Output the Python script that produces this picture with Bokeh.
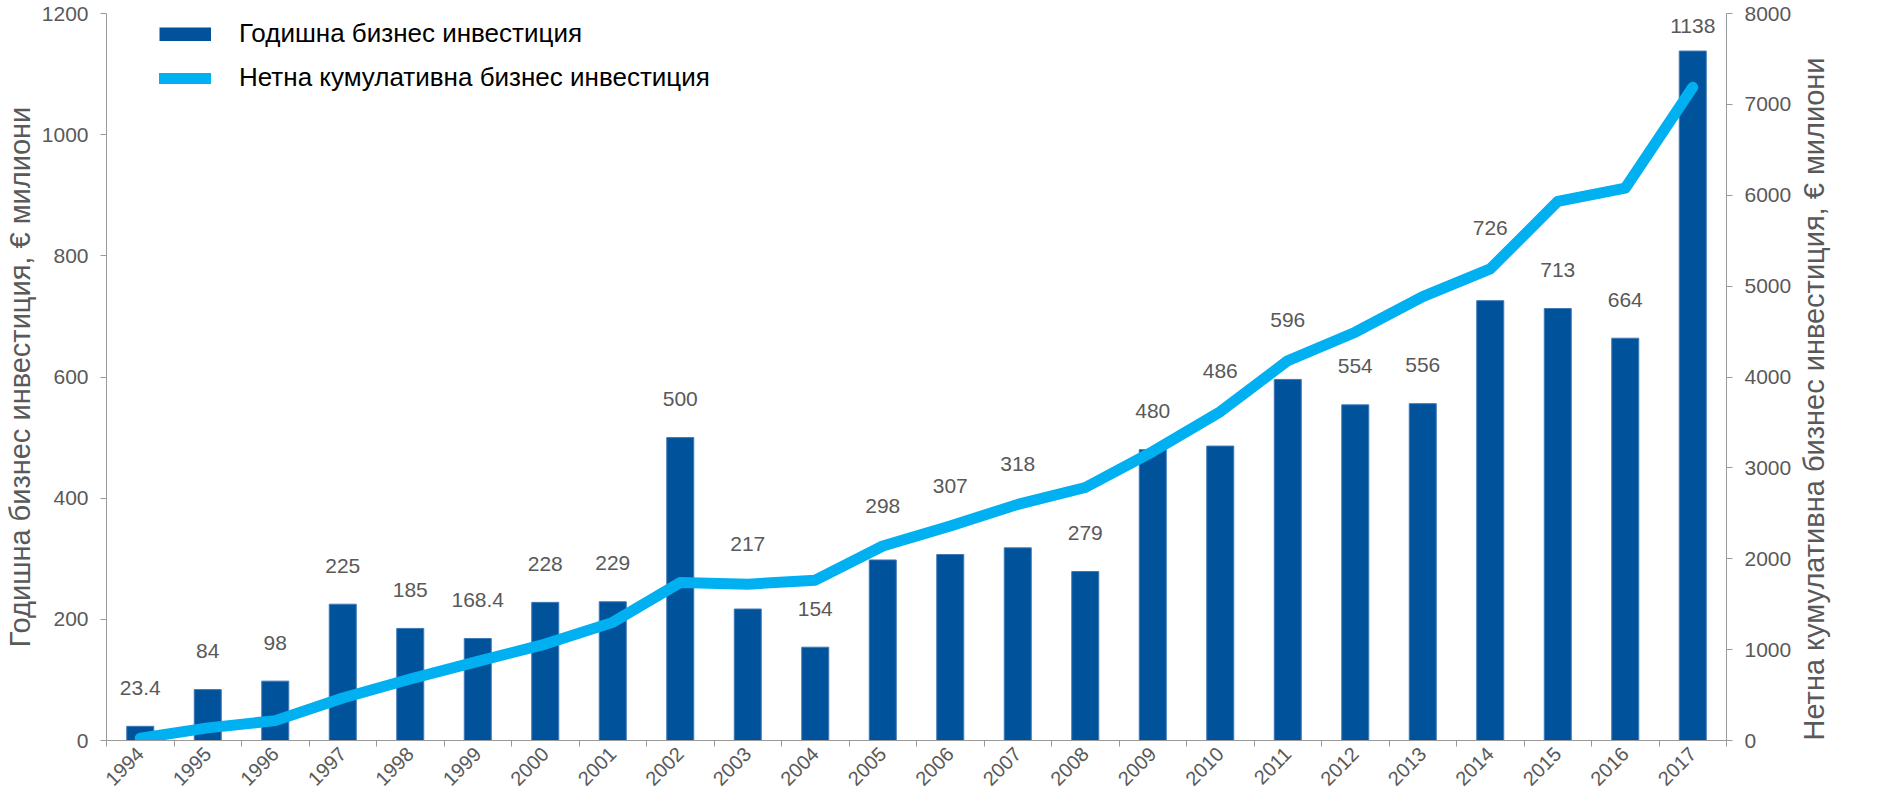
import math
from bokeh.plotting import figure
from bokeh.models import (Range1d, LinearAxis, FixedTicker, Legend, LegendItem,
                          ColumnDataSource)
from bokeh.core.properties import value
from bokeh.embed import file_html
from bokeh.resources import INLINE

# ---------------- data ----------------
years = list(range(1994, 2018))
year_labels = [str(y) for y in years]
annual = [23.4, 84, 98, 225, 185, 168.4, 228, 229, 500, 217, 154, 298,
          307, 318, 279, 480, 486, 596, 554, 556, 726, 713, 664, 1138]
annual_text = ["23.4", "84", "98", "225", "185", "168.4", "228", "229", "500",
               "217", "154", "298", "307", "318", "279", "480", "486", "596",
               "554", "556", "726", "713", "664", "1138"]
cumulative = [25, 139, 219, 468, 677, 871, 1061, 1300, 1738, 1720, 1764, 2140,
              2360, 2598, 2784, 3179, 3618, 4179, 4493, 4885, 5189, 5932, 6078, 7188]
left_ticks = [0, 200, 400, 600, 800, 1000, 1200]
right_ticks = [0, 1000, 2000, 3000, 4000, 5000, 6000, 7000, 8000]
bar_name = "Годишна бизнес инвестиция"
line_name = "Нетна кумулативна бизнес инвестиция"
left_title = "Годишна бизнес инвестиция, € милиони"
right_title = "Нетна кумулативна бизнес инвестиция, € милиони"

# ---------------- styling ----------------
FONT = "Liberation Sans"
TXT = "#595959"
AX = "#9A9A9A"
BAR = "#00529B"
BAR_EDGE = "#3F78B8"
LINE = "#00B0F0"
FRAME_H = 718.0
LMAX, RMAX = left_ticks[-1], right_ticks[-1]
upp = LMAX / FRAME_H            # left-axis units per pixel
ratio = LMAX / RMAX

# label placement: above bar, or above the line if it would collide with it
label_y = []
for a, c in zip(annual, cumulative):
    cand = a + 38 * upp
    ly = c * ratio
    if abs(cand - ly) < 25 * upp:
        cand = ly + 40 * upp
    cand = min(cand, LMAX - 12 * upp)
    label_y.append(cand)

src = ColumnDataSource(dict(x=years, annual=annual, cum=cumulative,
                            ly=label_y, txt=annual_text))

p = figure(width=1861, height=794, output_backend="svg", toolbar_location=None,
           x_range=Range1d(years[0] - 0.5, years[-1] + 0.5),
           y_range=Range1d(left_ticks[0], LMAX),
           min_border_top=13, min_border_left=102, min_border_right=135,
           min_border_bottom=0)
p.extra_y_ranges = {"cum": Range1d(right_ticks[0], RMAX)}
p.xgrid.visible = False
p.ygrid.visible = False
p.outline_line_color = None
p.background_fill_color = "white"
p.border_fill_color = "white"

bars = p.vbar(x="x", top="annual", width=0.4, source=src, fill_color=BAR,
              line_color=BAR_EDGE, line_width=1)
line = p.line(x="x", y="cum", source=src, y_range_name="cum", line_color=LINE,
              line_width=11, line_cap="round", line_join="round")
p.text(x="x", y="ly", text="txt", source=src, text_font=value(FONT),
       text_font_size="21px", text_color=TXT, text_align="center",
       text_baseline="middle")

# legend swatch for the bars (a thick butt-capped line gives a plain rectangle);
# a single NaN point so nothing is drawn in the plot itself
bar_swatch = p.line(x=[math.nan], y=[math.nan], line_color=BAR, line_width=14,
                    line_cap="butt")

# x axis: labels at centres, tick marks at category boundaries
xa = p.xaxis[0]
xa.ticker = FixedTicker(ticks=years, minor_ticks=[y - 0.5 for y in years] + [years[-1] + 0.5])
xa.major_label_overrides = {y: s for y, s in zip(years, year_labels)}
xa.major_tick_line_color = None
xa.major_tick_out = 6
xa.major_tick_in = 0
xa.minor_tick_line_color = AX
xa.minor_tick_out = 6
xa.minor_tick_in = 0
xa.axis_line_color = AX
xa.major_label_orientation = math.pi / 4
xa.major_label_text_font = FONT
xa.major_label_text_font_size = "20px"
xa.major_label_text_color = TXT
xa.major_label_standoff = 4

ya = p.yaxis[0]
ya.ticker = FixedTicker(ticks=left_ticks)
ya.minor_tick_line_color = None
ya.major_tick_in = 0
ya.major_tick_out = 6
ya.major_tick_line_color = AX
ya.axis_line_color = AX
ya.major_label_text_font = FONT
ya.major_label_text_font_size = "21px"
ya.major_label_text_color = TXT
ya.major_label_standoff = 12
ya.axis_label = left_title
ya.axis_label_text_font = FONT
ya.axis_label_text_font_size = "29px"
ya.axis_label_text_font_style = "normal"
ya.axis_label_text_color = TXT
ya.axis_label_standoff = 3

ra = LinearAxis(y_range_name="cum", ticker=FixedTicker(ticks=right_ticks))
ra.minor_tick_line_color = None
ra.major_tick_in = 0
ra.major_tick_out = 6
ra.major_tick_line_color = AX
ra.axis_line_color = AX
ra.major_label_text_font = FONT
ra.major_label_text_font_size = "21px"
ra.major_label_text_color = TXT
ra.major_label_standoff = 12
ra.axis_label = right_title
ra.axis_label_text_font = FONT
ra.axis_label_text_font_size = "29px"
ra.axis_label_text_font_style = "normal"
ra.axis_label_text_color = TXT
ra.axis_label_standoff = 20
_props = ra.properties()
if "axis_label_orientation" in _props:
    ra.axis_label_orientation = math.pi / 2   # read bottom-to-top
if "axis_label_align" in _props:
    ra.axis_label_align = "start"
p.add_layout(ra, "right")

legend = Legend(items=[LegendItem(label=bar_name, renderers=[bar_swatch]),
                       LegendItem(label=line_name, renderers=[line])],
                location=(53, 647), orientation="vertical")
legend.border_line_color = None
legend.background_fill_alpha = 0
legend.padding = 0
legend.margin = 0
legend.spacing = 13
legend.glyph_width = 52
legend.glyph_height = 14
legend.label_standoff = 28
legend.label_text_font = FONT
legend.label_text_font_size = "26px"
legend.label_text_color = "#000000"
p.add_layout(legend, "center")

open("out.html", "w").write(file_html(p, INLINE))
